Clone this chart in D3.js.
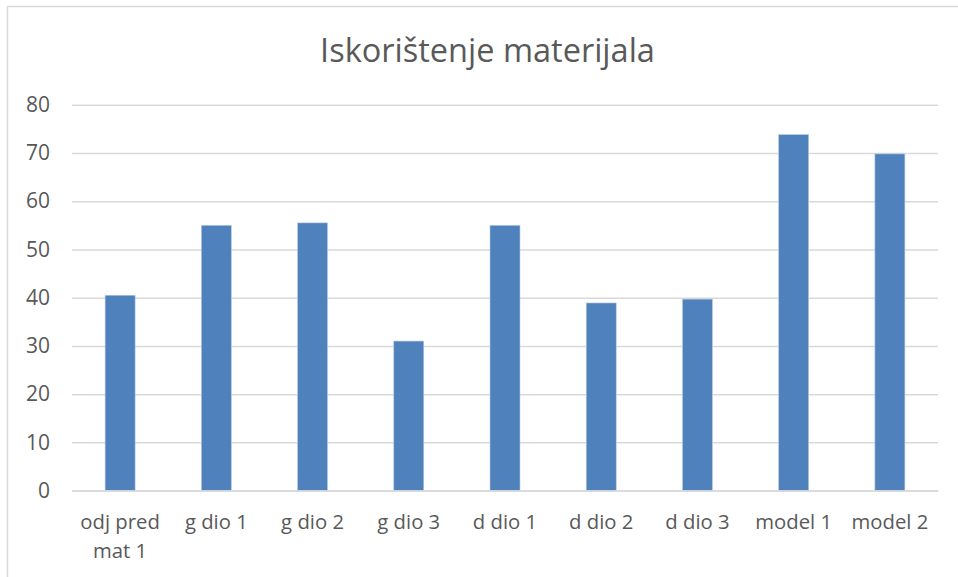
<!DOCTYPE html>
<html>
<head>
<meta charset="utf-8">
<script src="https://cdn.jsdelivr.net/npm/d3@7"></script>
<style>
  body { margin: 0; background: #fff; }
  svg { display: block; font-family: "Open Sans", sans-serif; }
</style>
</head>
<body>
<svg width="958" height="577"></svg>
<script>
const title = "Iskorištenje materijala";
const categories = ["odj pred mat 1", "g dio 1", "g dio 2", "g dio 3", "d dio 1", "d dio 2", "d dio 3", "model 1", "model 2"];
const values = [40.5, 55.0, 55.5, 31.0, 55.0, 38.9, 39.7, 73.8, 69.8];
const yTicks = [0, 10, 20, 30, 40, 50, 60, 70, 80];

const width = 958;
const height = 577;
const plotLeft = 72, plotRight = 938, plotTop = 104.7, plotBottom = 490.6;
const textColor = "#595959";
const gridColor = "#d9d9d9";

const svg = d3.select("svg");

// chart frame (right and bottom edges are cropped off)
svg.append("path")
  .attr("d", `M7.5,${height + 2}V6.5H${width + 2}`)
  .attr("fill", "none")
  .attr("stroke", gridColor)
  .attr("stroke-width", 1.5);

svg.append("text")
  .attr("x", 487.5)
  .attr("y", 62)
  .attr("text-anchor", "middle")
  .attr("fill", textColor)
  .style("font-size", "32.5px")
  .text(title);

const pad = 1 - 30 / ((plotRight - plotLeft) / categories.length);
const x = d3.scaleBand()
  .domain(categories)
  .range([plotLeft, plotRight])
  .paddingInner(pad)
  .paddingOuter(pad / 2);

const y = d3.scaleLinear().domain([0, 80]).range([plotBottom, plotTop]);

// gridlines + y labels
const yAxis = svg.append("g")
  .attr("transform", `translate(${plotLeft},0)`)
  .call(d3.axisLeft(y).tickValues(yTicks).tickSize(-(plotRight - plotLeft)).tickPadding(22));
yAxis.select(".domain").remove();
yAxis.selectAll(".tick line").attr("stroke", gridColor).attr("stroke-width", 1.5);
yAxis.selectAll(".tick text")
  .attr("fill", textColor)
  .style("font-size", "21px")
  .style("font-family", "Open Sans, sans-serif");

svg.selectAll("rect.bar")
  .data(values)
  .join("rect")
  .attr("class", "bar")
  .attr("x", (d, i) => x(categories[i]))
  .attr("width", x.bandwidth())
  .attr("y", (d) => y(d))
  .attr("height", (d) => y(0) - y(d))
  .attr("fill", "#4f81bd")
  .attr("stroke", "#b9cde5")
  .attr("stroke-width", 0.6);

// x axis
const xAxis = svg.append("g")
  .attr("transform", `translate(0,${plotBottom})`)
  .call(d3.axisBottom(x).tickSize(0).tickPadding(0));
xAxis.select(".domain").attr("stroke", gridColor).attr("stroke-width", 1.5);
xAxis.selectAll(".tick text")
  .attr("fill", textColor)
  .attr("y", 38)
  .attr("dy", 0)
  .style("font-size", "20.3px")
  .style("font-family", "Open Sans, sans-serif")
  .call(wrap, x.step() - 6);

function wrap(texts, w) {
  texts.each(function () {
    const text = d3.select(this);
    const words = text.text().split(" ");
    text.text(null);
    let line = [];
    let tspan = text.append("tspan").attr("x", 0).attr("dy", 0);
    words.forEach((word) => {
      line.push(word);
      tspan.text(line.join(" "));
      if (tspan.node().getComputedTextLength() > w && line.length > 1) {
        line.pop();
        tspan.text(line.join(" "));
        line = [word];
        tspan = text.append("tspan").attr("x", 0).attr("dy", 29).text(word);
      }
    });
  });
}
</script>
</body>
</html>
